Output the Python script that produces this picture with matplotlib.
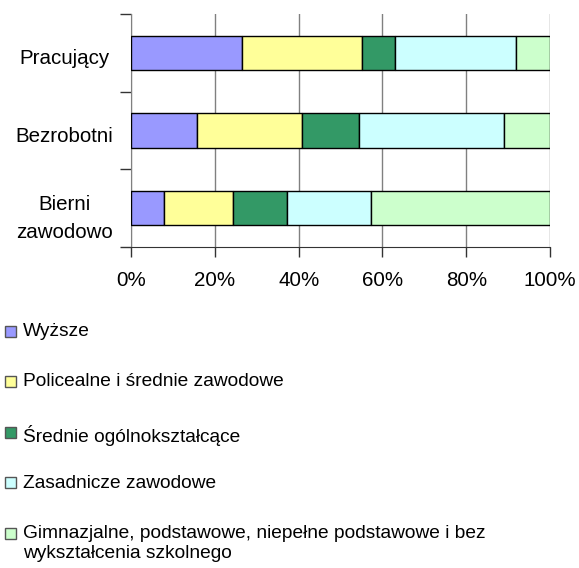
import numpy as np
import matplotlib
matplotlib.use("Agg")
import matplotlib.pyplot as plt
from matplotlib.patches import Rectangle
from matplotlib.transforms import ScaledTranslation

plt.rcParams['font.family'] = ['Liberation Sans', 'DejaVu Sans']

groups = ['Pracujący', 'Bezrobotni', 'Bierni\nzawodowo']
series = ['Wyższe',
          'Policealne i średnie zawodowe',
          'Średnie ogólnokształcące',
          'Zasadnicze zawodowe',
          'Gimnazjalne, podstawowe, niepełne podstawowe i bez\nwykształcenia szkolnego']
colors = ['#9999FF', '#FFFF99', '#339966', '#CCFFFF', '#CCFFCC']

# percent shares, order of series
wyzsze = [26.4, 15.8, 7.9]
policealne = [28.8, 25.0, 16.5]
srednie_ogol = [7.7, 13.5, 12.8]
zasadnicze = [29.0, 34.6, 20.0]
gimnazjalne = [8.1, 11.1, 42.8]
values = [wyzsze, policealne, srednie_ogol, zasadnicze, gimnazjalne]

fig = plt.figure(figsize=(5.79, 5.68), dpi=100)
ax = fig.add_axes([0.2263, 0.5651, 0.9500 - 0.2263, 0.9754 - 0.5651])

y = np.arange(len(groups))[::-1]
left = np.zeros(len(groups))
for vals, col in zip(values, colors):
    vals = np.array(vals)
    ax.barh(y, vals, left=left, height=0.44, color=col,
            edgecolor='black', linewidth=1, zorder=3)
    left += vals

ax.set_xlim(0, 100)
ax.set_ylim(-0.5, 2.5)
ax.set_xticks(np.arange(0, 101, 20))
ax.set_xticklabels([f'{v}%' for v in range(0, 101, 20)], fontsize=14.8)
ax.set_yticks(y)
ax.set_yticklabels(groups, fontsize=14.8, ha='center', linespacing=1.6)
ax.set_yticks([-0.5, 0.5, 1.5, 2.5], minor=True)
ax.tick_params(axis='y', which='major', length=0, pad=48)
ax.tick_params(axis='y', which='minor', length=8, width=1, color='#333333')
ax.tick_params(axis='x', length=7, width=1, pad=10, color='#333333')
ax.grid(axis='x', color='#808080', linewidth=1, zorder=0)
shift = ScaledTranslation(0, -0.04, fig.dpi_scale_trans)
for lbl in ax.get_yticklabels():
    lbl.set_transform(lbl.get_transform() + shift)

for s in ['top', 'right']:
    ax.spines[s].set_visible(False)
ax.spines['left'].set_color('#808080')
ax.spines['bottom'].set_color('#333333')

# legend below the plot
H, W = 568, 579
ys = [331.5, 381.5, 432.5, 482.5, 533.5]
for lab, col, yy in zip(series, colors, ys):
    fig.patches.append(Rectangle((5 / W, 1 - (yy + 5.5) / H), 11 / W, 11 / H,
                                 transform=fig.transFigure, facecolor=col,
                                 edgecolor='#555555', linewidth=1))
    fig.text(23 / W, 1 - (yy - 8) / H, lab, fontsize=13.8, va='top',
             ha='left', linespacing=1.22)

fig.savefig('out.png', dpi=100)
